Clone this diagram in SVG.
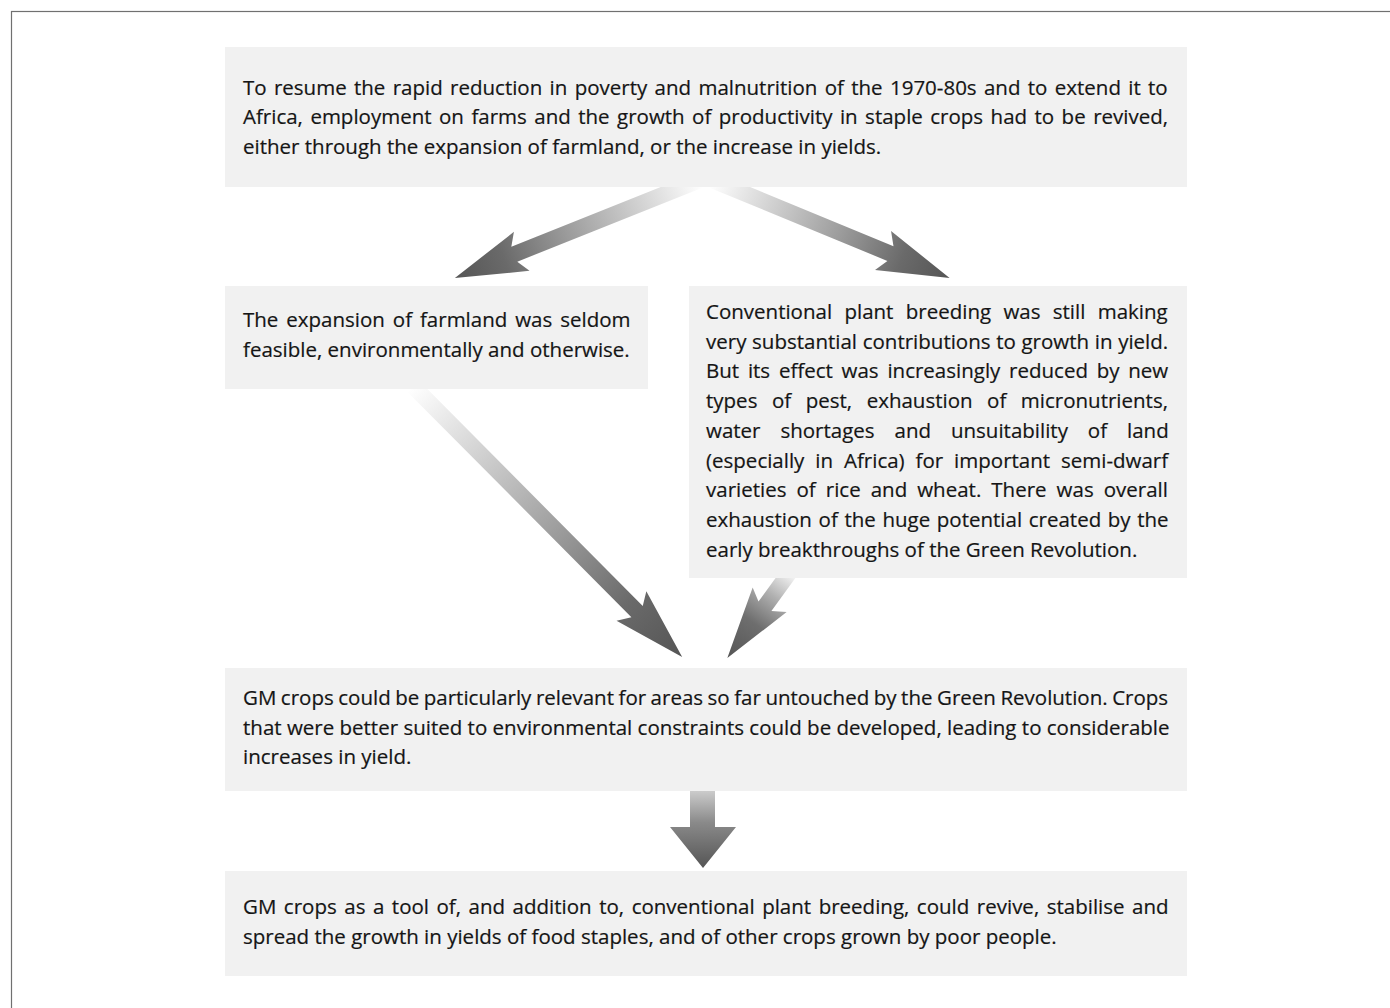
<svg xmlns="http://www.w3.org/2000/svg" width="1390" height="1008" viewBox="0 0 1390 1008">
<defs>
<style>
.box{fill:#f1f1f1}
.t{font-family:"Open Sans","Noto Sans","DejaVu Sans",sans-serif;font-size:20.5px;fill:#151515;stroke:#151515;stroke-width:0.2px}
</style>
<linearGradient id="g" x1="0" y1="0" x2="1" y2="0">
<stop offset="0" stop-color="#ffffff"/>
<stop offset="0.55" stop-color="#9a9a9a"/>
<stop offset="0.8" stop-color="#6a6a6a"/>
<stop offset="1" stop-color="#555555"/>
</linearGradient>
<linearGradient id="gs" x1="0" y1="0" x2="1" y2="0">
<stop offset="0" stop-color="#ffffff"/>
<stop offset="0.3" stop-color="#b0b0b0"/>
<stop offset="0.6" stop-color="#6e6e6e"/>
<stop offset="1" stop-color="#555555"/>
</linearGradient>
<linearGradient id="gd" x1="0" y1="0" x2="0" y2="1">
<stop offset="0" stop-color="#d8d8d8"/>
<stop offset="0.45" stop-color="#8a8a8a"/>
<stop offset="1" stop-color="#555555"/>
</linearGradient>
</defs>
<rect x="11.5" y="11.5" width="1400" height="1020" fill="#ffffff" stroke="#707070" stroke-width="1.2"/>
<g id="connectors">
<polygon transform="translate(700,180) rotate(158.2)" fill="url(#g)" points="0,-8 200,-8 192,-21 264,0 192,21 200,8 0,8"/>
<polygon transform="translate(712,180) rotate(22.4)" fill="url(#g)" points="0,-8 193,-8 185,-21 257,0 185,21 193,8 0,8"/>
<polygon transform="translate(413,386) rotate(45.2)" fill="url(#g)" points="0,-8 318,-8 310,-21 382,0 310,21 318,8 0,8"/>
<polygon transform="translate(792,569) rotate(126)" fill="url(#gs)" points="0,-8 46,-8 38,-21 110,0 38,21 46,8 0,8"/>
<polygon fill="url(#gd)" points="690,785 715,785 715,827 736,827 703,868 670,827 690,827"/>
</g>
<g id="node-top">
<rect class="box" x="225" y="47" width="962" height="140"/>
<text class="t" x="243" y="94.5" word-spacing="2">To resume the rapid reduction in poverty and malnutrition of the 1970-80s and to extend it to</text>
<text class="t" x="243" y="124" word-spacing="2.13">Africa, employment on farms and the growth of productivity in staple crops had to be revived,</text>
<text class="t" x="243" y="153.5">either through the expansion of farmland, or the increase in yields.</text>
</g>
<g id="node-left">
<rect class="box" x="225" y="286" width="423" height="103"/>
<text class="t" x="243" y="327" word-spacing="2.6">The expansion of farmland was seldom</text>
<text class="t" x="243" y="356.5">feasible, environmentally and otherwise.</text>
</g>
<g id="node-right">
<rect class="box" x="689" y="286" width="498" height="292"/>
<text class="t" x="706" y="319" word-spacing="7">Conventional plant breeding was still making</text>
<text class="t" x="706" y="348.7" word-spacing="0.33">very substantial contributions to growth in yield.</text>
<text class="t" x="706" y="378.4" word-spacing="3.43">But its effect was increasingly reduced by new</text>
<text class="t" x="706" y="408.1" word-spacing="9.2">types of pest, exhaustion of micronutrients,</text>
<text class="t" x="706" y="437.8" word-spacing="14.6">water shortages and unsuitability of land</text>
<text class="t" x="706" y="467.5" word-spacing="5.6">(especially in Africa) for important semi-dwarf</text>
<text class="t" x="706" y="497.2" word-spacing="4.71">varieties of rice and wheat. There was overall</text>
<text class="t" x="706" y="526.9" word-spacing="1.29">exhaustion of the huge potential created by the</text>
<text class="t" x="706" y="556.6">early breakthroughs of the Green Revolution.</text>
</g>
<g id="node-gm">
<rect class="box" x="225" y="668" width="962" height="123"/>
<text class="t" x="243" y="705" word-spacing="-0.8">GM crops could be particularly relevant for areas so far untouched by the Green Revolution. Crops</text>
<text class="t" x="243" y="734.5">that were better suited to environmental constraints could be developed, leading to considerable</text>
<text class="t" x="243" y="764">increases in yield.</text>
</g>
<g id="node-bottom">
<rect class="box" x="225" y="871" width="962" height="105"/>
<text class="t" x="243" y="914" word-spacing="2.2">GM crops as a tool of, and addition to, conventional plant breeding, could revive, stabilise and</text>
<text class="t" x="243" y="944">spread the growth in yields of food staples, and of other crops grown by poor people.</text>
</g>
</svg>
